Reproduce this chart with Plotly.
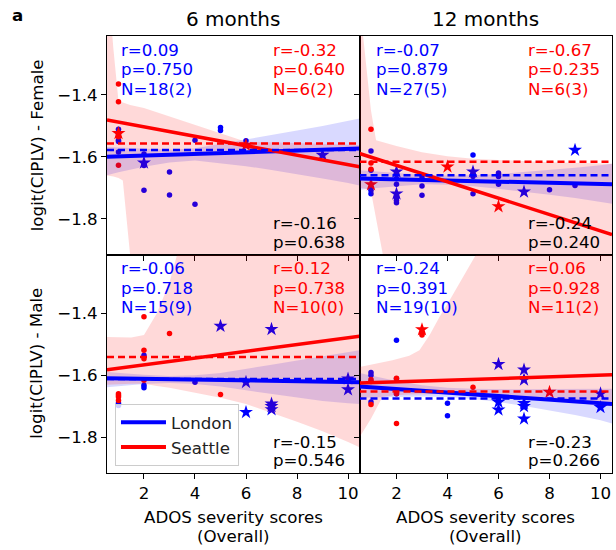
import plotly.graph_objects as go
from plotly.subplots import make_subplots

FONT = "DejaVu Sans"
BLUE = "#0000ff"
RED = "#ff0000"

# ---------------- shared axis info ----------------
col_titles = ["6 months", "12 months"]
row_titles = ["logit(CIPLV) - Female", "logit(CIPLV) - Male"]
x_title_lines = ["ADOS severity scores", "(Overall)"]
x_tick_vals = [2, 4, 6, 8, 10]
y_tick_vals = [-1.4, -1.6, -1.8]
x_range = [0.55, 10.45]
y_range = [-1.915, -1.21]
site_names = ["London", "Seattle"]

# ---------------- 6 months, Female ----------------
f6_lon_dot_x = [1, 1, 1, 1, 1, 2, 2, 2, 2, 3, 3, 4, 4, 5, 5, 6]
f6_lon_dot_y = [-1.511, -1.525, -1.546, -1.550, -1.584, -1.591, -1.625, -1.628, -1.708,
                -1.649, -1.723, -1.546, -1.753, -1.505, -1.515, -1.548]
f6_lon_star_x = [2, 9]
f6_lon_star_y = [-1.619, -1.594]
f6_sea_dot_x = [1, 1, 1, 1]
f6_sea_dot_y = [-1.365, -1.422, -1.535, -1.627]
f6_sea_star_x = [1, 6]
f6_sea_star_y = [-1.524, -1.562]
f6_lon_fit = [-1.600, -1.573]
f6_sea_fit = [-1.481, -1.632]
f6_lon_mean = -1.578
f6_sea_mean = -1.557
f6_lon_ci_x = [0.55, 1, 2, 3, 4, 5, 6, 7, 8, 9, 10, 10.45]
f6_lon_ci_hi = [-1.568, -1.570, -1.574, -1.577, -1.572, -1.558, -1.545, -1.530, -1.515, -1.500, -1.484, -1.476]
f6_lon_ci_lo = [-1.659, -1.650, -1.632, -1.618, -1.612, -1.620, -1.630, -1.642, -1.655, -1.670, -1.684, -1.692]
f6_sea_ci_x = [0.55, 0.8, 1.0, 1.17, 1.46, 2, 3, 4, 5, 6, 7, 8, 9, 10, 10.45]
f6_sea_ci_hi = [-1.0, -1.25, -1.42, -1.425, -1.433, -1.442, -1.469, -1.497, -1.524, -1.551,
                -1.553, -1.555, -1.557, -1.560, -1.562]
f6_sea_ci_lo = [-1.66, -1.663, -1.668, -1.676, -1.92, -2.3, -2.5, -2.6, -2.7, -2.8,
                -2.9, -3.0, -3.1, -3.2, -3.2]
f6_lon_stats = ["r=0.09", "p=0.750", "N=18(2)"]
f6_sea_stats = ["r=-0.32", "p=0.640", "N=6(2)"]
f6_all_stats = ["r=-0.16", "p=0.638"]

# ---------------- 12 months, Female ----------------
f12_lon_dot_x = [1, 1, 1, 1, 1, 2, 2, 2, 2, 2, 3, 3, 3, 5, 5, 5, 6, 6, 6, 6, 8, 9]
f12_lon_dot_y = [-1.581, -1.643, -1.700, -1.708, -1.719, -1.670, -1.688, -1.730, -1.740, -1.748,
                 -1.665, -1.694, -1.724, -1.594, -1.663, -1.719, -1.652, -1.657, -1.663, -1.688,
                 -1.706, -1.692]
f12_lon_star_x = [2, 2, 5, 7, 9]
f12_lon_star_y = [-1.648, -1.719, -1.648, -1.713, -1.578]
f12_sea_dot_x = [1, 1, 1]
f12_sea_dot_y = [-1.511, -1.620, -1.640]
f12_sea_star_x = [1, 4, 6]
f12_sea_star_y = [-1.689, -1.632, -1.760]
f12_lon_fit = [-1.670, -1.688]
f12_sea_fit = [-1.589, -1.851]
f12_lon_mean = -1.659
f12_sea_mean = -1.616
f12_lon_ci_x = [0.55, 1, 2, 3, 4, 5, 6, 7, 8, 9, 10, 10.45]
f12_lon_ci_hi = [-1.643, -1.646, -1.653, -1.658, -1.660, -1.659, -1.655, -1.649, -1.642, -1.635, -1.627, -1.622]
f12_lon_ci_lo = [-1.706, -1.702, -1.694, -1.688, -1.690, -1.695, -1.703, -1.712, -1.722, -1.733, -1.745, -1.751]
f12_sea_ci_x = [0.55, 0.8, 1.0, 1.2, 1.45, 2, 3, 4, 4.5, 5, 6, 7, 8, 9, 10, 10.45]
f12_sea_ci_hi = [-1.10, -1.30, -1.45, -1.546, -1.552, -1.565, -1.585, -1.598, -1.602, -1.606,
                 -1.610, -1.614, -1.617, -1.619, -1.621, -1.622]
f12_sea_ci_lo = [-1.70, -1.703, -1.712, -1.80, -1.915, -2.15, -2.5, -2.7, -2.8, -2.9,
                 -3.0, -3.1, -3.2, -3.3, -3.4, -3.4]
f12_lon_stats = ["r=-0.07", "p=0.879", "N=27(5)"]
f12_sea_stats = ["r=-0.67", "p=0.235", "N=6(3)"]
f12_all_stats = ["r=-0.24", "p=0.240"]

# ---------------- 6 months, Male ----------------
m6_lon_dot_x = [1, 1, 2, 2, 2, 4]
m6_lon_dot_y = [-1.690, -1.697, -1.535, -1.632, -1.640, -1.622]
m6_lon_star_x = [5, 6, 6, 7, 7, 7, 7, 10, 10]
m6_lon_star_y = [-1.441, -1.622, -1.719, -1.451, -1.692, -1.700, -1.710, -1.611, -1.646]
m6_sea_dot_x = [1, 1, 1, 1, 2, 2, 2, 2, 3, 5]
m6_sea_dot_y = [-1.659, -1.665, -1.670, -1.681, -1.411, -1.519, -1.546, -1.616, -1.465, -1.662]
m6_sea_star_x = []
m6_sea_star_y = []
m6_lon_fit = [-1.609, -1.622]
m6_sea_fit = [-1.582, -1.474]
m6_lon_mean = -1.612
m6_sea_mean = -1.541
m6_lon_ci_x = [0.55, 1, 2, 3, 4, 5, 6, 7, 8, 9, 10, 10.45]
m6_lon_ci_hi = [-1.589, -1.592, -1.598, -1.602, -1.600, -1.592, -1.580, -1.566, -1.552, -1.538, -1.525, -1.519]
m6_lon_ci_lo = [-1.638, -1.635, -1.628, -1.625, -1.628, -1.636, -1.648, -1.660, -1.672, -1.683, -1.690, -1.692]
m6_sea_ci_x = [0.55, 1, 1.5, 2, 2.5, 3, 3.3, 4, 5, 6, 7, 8, 9, 10, 10.45]
m6_sea_ci_hi = [-1.476, -1.477, -1.478, -1.47, -1.40, -1.30, -1.20, -1.0, -0.9, -0.8,
                -0.7, -0.6, -0.5, -0.4, -0.4]
m6_sea_ci_lo = [-1.63, -1.628, -1.627, -1.627, -1.634, -1.640, -1.645, -1.655, -1.672, -1.692,
                -1.72, -1.75, -1.78, -1.815, -1.832]
m6_lon_stats = ["r=-0.06", "p=0.718", "N=15(9)"]
m6_sea_stats = ["r=0.12", "p=0.738", "N=10(0)"]
m6_all_stats = ["r=-0.15", "p=0.546"]

# ---------------- 12 months, Male ----------------
m12_lon_dot_x = [1, 1, 1, 2, 2, 2, 4, 4, 6]
m12_lon_dot_y = [-1.591, -1.600, -1.686, -1.487, -1.611, -1.659, -1.690, -1.730, -1.675]
m12_lon_star_x = [6, 6, 6, 7, 7, 7, 7, 7, 10, 10]
m12_lon_star_y = [-1.564, -1.686, -1.711, -1.582, -1.614, -1.690, -1.700, -1.740, -1.659, -1.703]
m12_sea_dot_x = [1, 1, 2, 2, 2, 3, 3, 5, 1]
m12_sea_dot_y = [-1.613, -1.694, -1.609, -1.659, -1.755, -1.465, -1.470, -1.638, -1.620]
m12_sea_star_x = [3, 8]
m12_sea_star_y = [-1.452, -1.654]
m12_lon_fit = [-1.636, -1.692]
m12_sea_fit = [-1.625, -1.598]
m12_lon_mean = -1.675
m12_sea_mean = -1.652
m12_lon_ci_x = [0.55, 1, 2, 3, 4, 5, 6, 7, 8, 9, 10, 10.45]
m12_lon_ci_hi = [-1.592, -1.600, -1.618, -1.632, -1.640, -1.643, -1.645, -1.645, -1.644, -1.643, -1.643, -1.643]
m12_lon_ci_lo = [-1.672, -1.672, -1.670, -1.668, -1.670, -1.676, -1.686, -1.699, -1.713, -1.728, -1.745, -1.755]
m12_sea_ci_x = [0.55, 1, 1.45, 1.84, 2.5, 2.9, 3.3, 3.69, 4.1, 4.47, 5.13, 6, 7, 8, 9, 10, 10.45]
m12_sea_ci_hi = [-1.573, -1.566, -1.558, -1.551, -1.537, -1.519, -1.47, -1.411, -1.355, -1.303,
                 -1.21, -1.08, -0.95, -0.8, -0.7, -0.6, -0.55]
m12_sea_ci_lo = [-1.80, -1.74, -1.67, -1.665, -1.662, -1.661, -1.660, -1.660, -1.660, -1.660,
                 -1.661, -1.665, -1.672, -1.680, -1.688, -1.697, -1.70]
m12_lon_stats = ["r=-0.24", "p=0.391", "N=19(10)"]
m12_sea_stats = ["r=0.06", "p=0.928", "N=11(2)"]
m12_all_stats = ["r=-0.23", "p=0.266"]

# ---------------- assemble ----------------
panels = [
    dict(row=1, col=1,
         lon=(f6_lon_dot_x, f6_lon_dot_y, f6_lon_star_x, f6_lon_star_y, f6_lon_fit, f6_lon_mean,
              f6_lon_ci_x, f6_lon_ci_lo, f6_lon_ci_hi, f6_lon_stats),
         sea=(f6_sea_dot_x, f6_sea_dot_y, f6_sea_star_x, f6_sea_star_y, f6_sea_fit, f6_sea_mean,
              f6_sea_ci_x, f6_sea_ci_lo, f6_sea_ci_hi, f6_sea_stats),
         all=f6_all_stats),
    dict(row=1, col=2,
         lon=(f12_lon_dot_x, f12_lon_dot_y, f12_lon_star_x, f12_lon_star_y, f12_lon_fit, f12_lon_mean,
              f12_lon_ci_x, f12_lon_ci_lo, f12_lon_ci_hi, f12_lon_stats),
         sea=(f12_sea_dot_x, f12_sea_dot_y, f12_sea_star_x, f12_sea_star_y, f12_sea_fit, f12_sea_mean,
              f12_sea_ci_x, f12_sea_ci_lo, f12_sea_ci_hi, f12_sea_stats),
         all=f12_all_stats),
    dict(row=2, col=1,
         lon=(m6_lon_dot_x, m6_lon_dot_y, m6_lon_star_x, m6_lon_star_y, m6_lon_fit, m6_lon_mean,
              m6_lon_ci_x, m6_lon_ci_lo, m6_lon_ci_hi, m6_lon_stats),
         sea=(m6_sea_dot_x, m6_sea_dot_y, m6_sea_star_x, m6_sea_star_y, m6_sea_fit, m6_sea_mean,
              m6_sea_ci_x, m6_sea_ci_lo, m6_sea_ci_hi, m6_sea_stats),
         all=m6_all_stats),
    dict(row=2, col=2,
         lon=(m12_lon_dot_x, m12_lon_dot_y, m12_lon_star_x, m12_lon_star_y, m12_lon_fit, m12_lon_mean,
              m12_lon_ci_x, m12_lon_ci_lo, m12_lon_ci_hi, m12_lon_stats),
         sea=(m12_sea_dot_x, m12_sea_dot_y, m12_sea_star_x, m12_sea_star_y, m12_sea_fit, m12_sea_mean,
              m12_sea_ci_x, m12_sea_ci_lo, m12_sea_ci_hi, m12_sea_stats),
         all=m12_all_stats),
]

fig = make_subplots(rows=2, cols=2, horizontal_spacing=0, vertical_spacing=0)

TS = 16.67  # text size
annotations = []

for p in panels:
    r, c = p["row"], p["col"]
    idx = (r - 1) * 2 + c
    sfx = "" if idx == 1 else str(idx)
    site_data = [(p["lon"], BLUE, "rgba(0,0,255,0.15)", 4.0),
                 (p["sea"], RED, "rgba(255,0,0,0.15)", 3.5)]
    # markers first
    for d, col, _, _ in site_data:
        dx, dy, sx, sy = d[0], d[1], d[2], d[3]
        fig.add_trace(go.Scatter(x=dx, y=dy, mode="markers", showlegend=False, hoverinfo="skip",
                                 marker=dict(color=col, size=5.5, symbol="circle", line=dict(width=0))),
                      row=r, col=c)
        if sx:
            fig.add_trace(go.Scatter(x=sx, y=sy, mode="markers", showlegend=False, hoverinfo="skip",
                                     marker=dict(color=col, size=10.5, symbol="star", line=dict(width=0))),
                          row=r, col=c)
    # CI bands
    for d, col, fillc, _ in site_data:
        cx, lo, hi = d[6], d[7], d[8]
        fig.add_trace(go.Scatter(x=list(cx) + list(cx)[::-1], y=list(hi) + list(lo)[::-1],
                                 mode="lines", fill="toself", fillcolor=fillc,
                                 line=dict(width=0), showlegend=False, hoverinfo="skip"),
                      row=r, col=c)
    # regression lines
    for d, col, _, w in site_data:
        fig.add_trace(go.Scatter(x=x_range, y=d[4], mode="lines", showlegend=False, hoverinfo="skip",
                                 line=dict(color=col, width=w)), row=r, col=c)
    # mean dashed lines
    for d, col, _, _ in site_data:
        fig.add_trace(go.Scatter(x=x_range, y=[d[5], d[5]], mode="lines", showlegend=False,
                                 hoverinfo="skip", line=dict(color=col, width=2.5, dash="7px,4px")),
                      row=r, col=c)

    xref = f"x{sfx} domain"
    yref = f"y{sfx} domain"
    left_off = 12 if c == 1 else 14
    right_off = 164 if c == 1 else 166
    row_off = [14, 33.5, 53]
    for k, t in enumerate(p["lon"][9]):
        annotations.append(dict(text=t, xref=xref, yref=yref, x=0, y=1, xanchor="left", yanchor="middle",
                                xshift=left_off, yshift=-row_off[k], showarrow=False,
                                font=dict(family=FONT, size=TS, color=BLUE)))
    for k, t in enumerate(p["sea"][9]):
        annotations.append(dict(text=t, xref=xref, yref=yref, x=0, y=1, xanchor="left", yanchor="middle",
                                xshift=right_off, yshift=-row_off[k], showarrow=False,
                                font=dict(family=FONT, size=TS, color=RED)))
    bot_off = [31, 12.5]
    for k, t in enumerate(p["all"]):
        annotations.append(dict(text=t, xref=xref, yref=yref, x=0, y=0, xanchor="left", yanchor="middle",
                                xshift=right_off, yshift=bot_off[k], showarrow=False,
                                font=dict(family=FONT, size=TS, color="black")))
    if r == 1:
        annotations.append(dict(text=col_titles[c - 1], xref=xref, yref=yref, x=0.5, y=1,
                                xanchor="center", yanchor="middle", yshift=17, showarrow=False,
                                font=dict(family=FONT, size=20, color="black")))
    if r == 2:
        for k, t in enumerate(x_title_lines):
            annotations.append(dict(text=t, xref=xref, yref=yref, x=0.5, y=0,
                                    xanchor="center", yanchor="middle", yshift=-(44.3 + 19.4 * k),
                                    showarrow=False, font=dict(family=FONT, size=TS, color="black")))
    if c == 1:
        annotations.append(dict(text=row_titles[r - 1], xref="paper", yref=yref, x=-0.1386, y=0.5,
                                xanchor="center", yanchor="middle", textangle=-90, showarrow=False,
                                font=dict(family=FONT, size=TS, color="black")))

# panel letter
annotations.append(dict(text="<b>a</b>", xref="paper", yref="paper", x=-0.1921, y=1.048,
                        xanchor="left", yanchor="middle", showarrow=False,
                        font=dict(family=FONT, size=TS, color="black")))

# legend entries
for name, col in zip(site_names, [BLUE, RED]):
    fig.add_trace(go.Scatter(x=[None], y=[None], mode="lines", name=name,
                             line=dict(color=col, width=4), showlegend=True), row=2, col=1)

axis_common = dict(showline=True, linecolor="black", linewidth=1, mirror=True,
                   ticks="outside", ticklen=5, tickwidth=1, tickcolor="black", showgrid=False,
                   zeroline=False, tickfont=dict(family=FONT, size=TS, color="black"))

for i in range(1, 5):
    r = (i - 1) // 2 + 1
    c = (i - 1) % 2 + 1
    fig.update_xaxes(axis_common, row=r, col=c)
    fig.update_yaxes(axis_common, row=r, col=c)
    fig.update_xaxes(range=x_range, tickvals=x_tick_vals, showticklabels=(r == 2), row=r, col=c)
    fig.update_yaxes(range=y_range, tickvals=y_tick_vals, tickformat=".1f",
                     showticklabels=(c == 1), row=r, col=c)

fig.update_layout(
    width=616, height=550,
    margin=dict(l=107, r=4, t=36, b=77, pad=0),
    paper_bgcolor="white", plot_bgcolor="white",
    annotations=annotations,
    showlegend=True,
    legend=dict(x=0.0158, y=0.016, xanchor="left", yanchor="bottom",
                bgcolor="rgba(255,255,255,0.8)", bordercolor="#cccccc", borderwidth=1,
                font=dict(family=FONT, size=TS, color="#222222"), itemwidth=45,
                tracegroupgap=0),
    font=dict(family=FONT, size=TS, color="black"),
)

fig.write_html("out.html")
